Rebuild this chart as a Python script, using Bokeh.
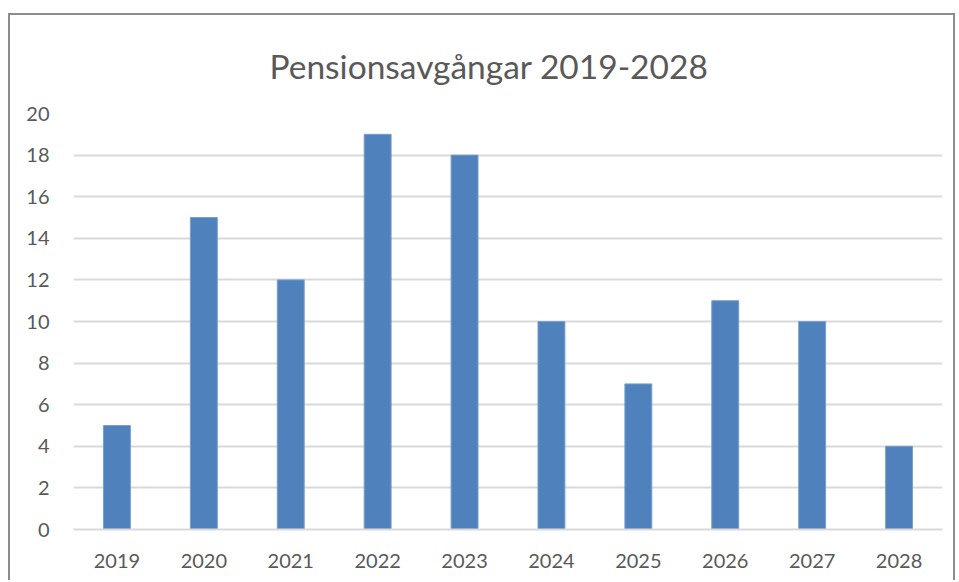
from bokeh.plotting import figure
from bokeh.models import Title, Range1d, SingleIntervalTicker
from bokeh.embed import file_html
from bokeh.resources import INLINE

years = ["2019", "2020", "2021", "2022", "2023", "2024", "2025", "2026", "2027", "2028"]
counts = [5, 15, 12, 19, 18, 10, 7, 11, 10, 4]
title_text = "Pensionsavgångar 2019-2028"

FONT = "Lato"
TEXT = "#595959"

p = figure(x_range=years, y_range=Range1d(0, 20), width=947, height=567,
           output_backend="svg", toolbar_location=None, title=None,
           min_border_left=63, min_border_right=15, min_border_top=98, min_border_bottom=53)

p.vbar(x=years, top=counts, width=0.31, fill_color="#4f81bd", line_color="#7a9fd0", line_width=1)

t = Title(text=title_text, align="left", offset=196, text_font=FONT, text_font_size="33.5px",
          text_color=TEXT, text_font_style="normal", standoff=55)
p.add_layout(t, "above")

p.outline_line_color = None
p.xgrid.grid_line_color = None
p.ygrid.grid_line_color = "#d9d9d9"
p.ygrid.grid_line_width = 2
p.yaxis.ticker = SingleIntervalTicker(interval=2)
p.ygrid.ticker = SingleIntervalTicker(interval=2)

for ax in (p.xaxis, p.yaxis):
    ax.axis_line_color = None
    ax.major_tick_line_color = None
    ax.minor_tick_line_color = None
    ax.major_label_text_font = FONT
    ax.major_label_text_font_size = "20px"
    ax.major_label_text_color = TEXT

p.xaxis.axis_line_color = "#d9d9d9"
p.xaxis.axis_line_width = 2
p.xaxis.major_label_standoff = 18
p.yaxis.major_label_standoff = 18

p.styles = {"border-top": "2px solid #8c8c8c", "border-left": "2px solid #8c8c8c",
            "border-right": "2px solid #8c8c8c", "margin-left": "8px", "margin-top": "13px"}

open("out.html", "w").write(file_html(p, INLINE))
